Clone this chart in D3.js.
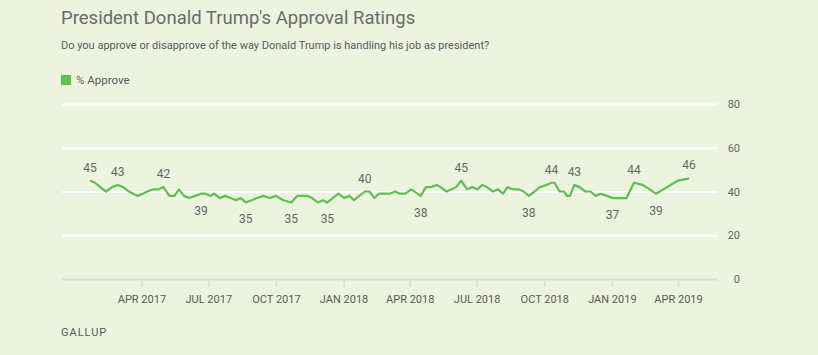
<!DOCTYPE html>
<html>
<head>
<meta charset="utf-8">
<script src="https://cdn.jsdelivr.net/npm/d3@7"></script>
<style>
  html, body { margin: 0; padding: 0; background: #ecf3de; }
  svg { display: block; font-family: Roboto, "Noto Sans", sans-serif; }
</style>
</head>
<body>
<svg id="chart" width="818" height="355"></svg>
<script>
// ---- Data ----
const pollDates = [
  "2017-01-21","2017-01-28","2017-02-04","2017-02-12","2017-02-20","2017-02-28","2017-03-07","2017-03-15",
  "2017-03-21","2017-03-27","2017-04-03","2017-04-09","2017-04-17","2017-04-24","2017-05-01","2017-05-09",
  "2017-05-16","2017-05-22","2017-05-29","2017-06-05","2017-06-13","2017-06-21","2017-06-27","2017-07-04",
  "2017-07-09","2017-07-17","2017-07-24","2017-07-31","2017-08-08","2017-08-14","2017-08-21","2017-08-29",
  "2017-09-05","2017-09-14","2017-09-23","2017-10-01","2017-10-11","2017-10-22","2017-10-30","2017-11-06",
  "2017-11-13","2017-11-19","2017-11-27","2017-12-04","2017-12-10","2017-12-25","2018-01-02","2018-01-09",
  "2018-01-15","2018-01-30","2018-02-05","2018-02-12","2018-02-18","2018-03-05","2018-03-12","2018-03-19",
  "2018-03-26","2018-04-03","2018-04-16","2018-04-23","2018-04-30","2018-05-08","2018-05-13","2018-05-21",
  "2018-05-28","2018-06-03","2018-06-10","2018-06-18","2018-06-25","2018-07-02","2018-07-09","2018-07-15",
  "2018-07-23","2018-07-30","2018-08-06","2018-08-12","2018-08-19","2018-08-27","2018-09-03","2018-09-10",
  "2018-09-18","2018-09-25","2018-10-04","2018-10-11","2018-10-15","2018-10-22","2018-10-28","2018-11-01",
  "2018-11-05","2018-11-11","2018-11-18","2018-11-26","2018-12-03","2018-12-10","2018-12-17","2018-12-25",
  "2019-01-02","2019-01-11","2019-01-21","2019-01-31","2019-02-12","2019-03-02","2019-03-17","2019-04-01",
  "2019-04-16"
];
const approveValues = [
  45,44,42,40,42,43,42,40,
  39,38,39,40,41,41,42,38,
  38,41,38,37,38,39,39,38,
  39,37,38,37,36,37,35,36,
  37,38,37,38,36,35,38,38,
  38,37,35,36,35,39,37,38,
  36,40,40,37,39,39,40,39,
  39,41,38,42,42,43,42,40,
  41,42,45,41,42,41,43,42,
  40,41,39,42,41,41,40,38,
  40,42,43,44,44,40,40,38,
  38,43,42,40,40,38,39,38,
  37,37,37,44,43,39,42,45,
  46
];
// Points that carry a value label in the reference, and on which side of the line
const labeledDates = [
  "2017-01-21","2017-02-28","2017-05-01","2017-06-21","2017-08-21","2017-10-22","2017-12-10",
  "2018-01-30","2018-04-16","2018-06-10","2018-09-10","2018-10-11","2018-11-11",
  "2019-01-02","2019-01-31","2019-03-02","2019-04-16"
];
const labelSides = [
  "above","above","above","below","below","below","below",
  "above","below","above","below","above","above",
  "below","above","below","above"
];
const xTickDates = ["2017-04-01","2017-07-01","2017-10-01","2018-01-01","2018-04-01","2018-07-01","2018-10-01","2019-01-01","2019-04-01"];
const yTickValues = [0, 20, 40, 60, 80];
const seriesName = "% Approve";
const titleText = "President Donald Trump's Approval Ratings";
const subtitleText = "Do you approve or disapprove of the way Donald Trump is handling his job as president?";
const sourceText = "GALLUP";

(function () {
const parse = d3.utcParse("%Y-%m-%d");
const data = pollDates.map((d, i) => ({ date: parse(d), value: approveValues[i], key: d }));

const svg = d3.select("#chart");
const mLeft = 62, mRight = 717, mTop = 104, mBottom = 279;
const green = "#5fbf50";
const textGray = "#666666";

const x = d3.scaleUtc()
  .domain([parse("2016-12-14"), parse("2019-05-24")])
  .range([mLeft, mRight]);
const y = d3.scaleLinear().domain([0, 80]).range([mBottom, mTop]);

// Title / subtitle
svg.append("text").attr("x", 61).attr("y", 24)
  .attr("font-size", 18.5).attr("fill", "#6b6b6b").text(titleText);
svg.append("text").attr("x", 61).attr("y", 49)
  .attr("font-size", 11).attr("fill", "#5a5a5a").text(subtitleText);

// Legend
svg.append("rect").attr("x", 61).attr("y", 75).attr("width", 10).attr("height", 10).attr("fill", green);
svg.append("text").attr("x", 76).attr("y", 84).attr("font-size", 11.5).attr("fill", "#5a5a5a").text(seriesName);

// Gridlines + y labels (right side)
const yAxis = d3.axisRight(y).tickValues(yTickValues).tickSize(mRight - mLeft).tickFormat(d3.format("d"));
const gy = svg.append("g").attr("transform", `translate(${mLeft},0)`).call(yAxis);
gy.select(".domain").remove();
gy.selectAll(".tick line")
  .attr("stroke", d => d === 0 ? "#dcdcd4" : "#ffffff")
  .attr("stroke-width", 2);
gy.selectAll(".tick text")
  .attr("x", 740 - mLeft).attr("text-anchor", "end")
  .attr("font-size", 11).attr("fill", textGray).attr("font-family", "Roboto, sans-serif");

// X axis ticks
const fmt = d => d3.utcFormat("%b %Y")(d).toUpperCase();
const xAxis = d3.axisBottom(x).tickValues(xTickDates.map(parse)).tickSize(8).tickPadding(8).tickFormat(fmt);
const gx = svg.append("g").attr("transform", `translate(0,${mBottom})`).call(xAxis);
gx.select(".domain").remove();
gx.selectAll(".tick line").attr("stroke", "#dcdcd4").attr("stroke-width", 1.5);
gx.selectAll(".tick text").attr("font-size", 11).attr("fill", "#5a5a5a").attr("font-family", "Roboto, sans-serif");

// Line
const line = d3.line().x(d => x(d.date)).y(d => y(d.value));
svg.append("path").datum(data)
  .attr("fill", "none").attr("stroke", green).attr("stroke-width", 2.2)
  .attr("stroke-linejoin", "round").attr("d", line);

// Value labels
const labeled = labeledDates.map((k, j) => {
  const d = data.find(p => p.key === k);
  return { ...d, above: labelSides[j] === "above" };
});
svg.append("g").selectAll("text").data(labeled).join("text")
  .attr("x", d => x(d.date))
  .attr("y", d => y(d.value) + (d.above ? -9 : 21))
  .attr("text-anchor", "middle").attr("font-size", 12).attr("fill", textGray)
  .text(d => d.value);

// Source
svg.append("text").attr("x", 61).attr("y", 336).attr("font-size", 11)
  .attr("letter-spacing", 1).attr("fill", "#5a5a5a").text(sourceText);
})();
</script>
</body>
</html>
